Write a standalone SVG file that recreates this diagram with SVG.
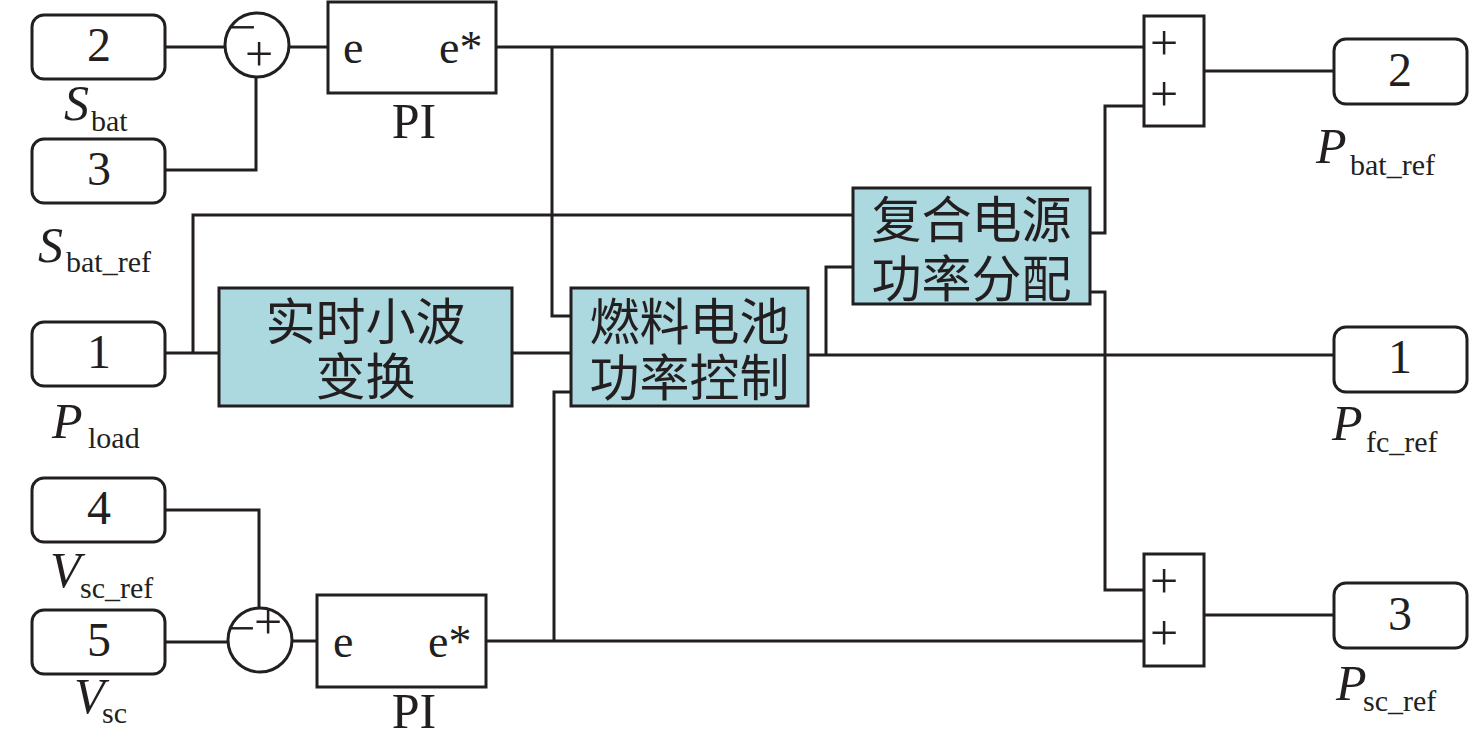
<svg xmlns="http://www.w3.org/2000/svg" width="1476" height="747" viewBox="0 0 1476 747">
<style>
.blk{fill:#fff;stroke:#231f20;stroke-width:3}
.cyan{fill:#acd8df;stroke:#231f20;stroke-width:3}
.wire{fill:none;stroke:#231f20;stroke-width:3}
.num{font-family:"Liberation Serif",serif;font-size:48px;fill:#231f20;text-anchor:middle}
.pe{font-family:"Liberation Serif",serif;font-size:46px;fill:#231f20}
.pi{font-family:"Liberation Serif",serif;font-size:50px;fill:#231f20;text-anchor:middle}
.sg{font-family:"Liberation Serif",serif;font-size:50px;fill:#231f20;text-anchor:middle}
.var{font-family:"Liberation Serif",serif;font-size:50px;font-style:italic;fill:#231f20}
.sub{font-family:"Liberation Serif",serif;font-size:30px;font-style:normal;fill:#231f20}
.cn{font-family:"Noto Sans CJK SC","Noto Sans CJK TC",sans-serif;font-size:50px;fill:#231f20;text-anchor:middle}
</style>
<g id="connectors">
<path class="wire" d="M165 47H225"/>
<path class="wire" d="M289 47H328"/>
<path class="wire" d="M165 170H256V77"/>
<path class="wire" d="M496 47H1150"/>
<path class="wire" d="M552 47V316H571"/>
<path class="wire" d="M165 353H219"/>
<path class="wire" d="M193 353V215H853"/>
<path class="wire" d="M512 353H571"/>
<path class="wire" d="M808 355H1334"/>
<path class="wire" d="M826 355V267H853"/>
<path class="wire" d="M1090 233H1105V106H1144"/>
<path class="wire" d="M1090 292H1105V590H1144"/>
<path class="wire" d="M1204 71H1334"/>
<path class="wire" d="M1204 615H1334"/>
<path class="wire" d="M165 510H259V608"/>
<path class="wire" d="M165 642H228"/>
<path class="wire" d="M292 641H317"/>
<path class="wire" d="M486 641H1144"/>
<path class="wire" d="M554 641V392H571"/>
</g>
<g id="in_sbat">
<rect class="blk" x="32" y="15" width="133" height="64" rx="12"/>
<text class="num" x="99" y="61">2</text>
<text class="var" x="64" y="120">S<tspan class="sub" x="91" y="131">bat</tspan></text>
</g>
<g id="in_sbatref">
<rect class="blk" x="32" y="139" width="133" height="64" rx="12"/>
<text class="num" x="99" y="185">3</text>
<text class="var" x="38" y="262">S<tspan class="sub" x="66" y="272">bat_ref</tspan></text>
</g>
<g id="in_pload">
<rect class="blk" x="32" y="322" width="133" height="64" rx="12"/>
<text class="num" x="99" y="368">1</text>
<text class="var" x="52" y="438">P<tspan class="sub" x="88" y="448">load</tspan></text>
</g>
<g id="in_vscref">
<rect class="blk" x="32" y="478" width="133" height="64" rx="12"/>
<text class="num" x="99" y="524">4</text>
<text class="var" x="50" y="587">V<tspan class="sub" x="80" y="598">sc_ref</tspan></text>
</g>
<g id="in_vsc">
<rect class="blk" x="32" y="610" width="133" height="64" rx="12"/>
<text class="num" x="99" y="656">5</text>
<text class="var" x="74" y="713">V<tspan class="sub" x="102" y="723">sc</tspan></text>
</g>
<g id="sum_top">
<circle class="blk" cx="257" cy="45" r="32"/>
<text class="sg" x="242" y="44">−</text>
<text class="sg" x="259" y="71">+</text>
</g>
<g id="sum_bottom">
<circle class="blk" cx="260" cy="640" r="32"/>
<text class="sg" x="268" y="639">+</text>
<text class="sg" x="241" y="645">−</text>
</g>
<g id="pi_top">
<rect class="blk" x="328" y="2" width="168" height="91"/>
<text class="pe" x="343" y="63">e</text>
<text class="pe" x="439" y="63">e*</text>
<text class="pi" x="414" y="138">PI</text>
</g>
<g id="pi_bottom">
<rect class="blk" x="317" y="595" width="169" height="92"/>
<text class="pe" x="333" y="657">e</text>
<text class="pe" x="428" y="657">e*</text>
<text class="pi" x="414" y="728">PI</text>
</g>
<g id="wavelet">
<rect class="cyan" x="219" y="288" width="293" height="118"/>
<text class="cn" x="365.5" y="340">实时小波</text>
<text class="cn" x="365.5" y="395">变换</text>
</g>
<g id="fc_control">
<rect class="cyan" x="571" y="288" width="237" height="118"/>
<text class="cn" x="689.5" y="340">燃料电池</text>
<text class="cn" x="689.5" y="396">功率控制</text>
</g>
<g id="hybrid_alloc">
<rect class="cyan" x="853" y="188" width="237" height="116"/>
<text class="cn" x="971.5" y="238">复合电源</text>
<text class="cn" x="971.5" y="297">功率分配</text>
</g>
<g id="add_top">
<rect class="blk" x="1144" y="16" width="60" height="110"/>
<text class="sg" x="1164" y="60">+</text>
<text class="sg" x="1164" y="111">+</text>
</g>
<g id="add_bottom">
<rect class="blk" x="1144" y="554" width="60" height="112"/>
<text class="sg" x="1164" y="598">+</text>
<text class="sg" x="1164" y="650">+</text>
</g>
<g id="out_pbatref">
<rect class="blk" x="1334" y="39" width="133" height="65" rx="12"/>
<text class="num" x="1400" y="86">2</text>
<text class="var" x="1316" y="163">P<tspan class="sub" x="1350" y="175">bat_ref</tspan></text>
</g>
<g id="out_pfcref">
<rect class="blk" x="1334" y="327" width="133" height="65" rx="12"/>
<text class="num" x="1400" y="373">1</text>
<text class="var" x="1332" y="440">P<tspan class="sub" x="1366" y="452">fc_ref</tspan></text>
</g>
<g id="out_pscref">
<rect class="blk" x="1334" y="583" width="133" height="65" rx="12"/>
<text class="num" x="1400" y="630">3</text>
<text class="var" x="1336" y="700">P<tspan class="sub" x="1363" y="711">sc_ref</tspan></text>
</g>
</svg>
